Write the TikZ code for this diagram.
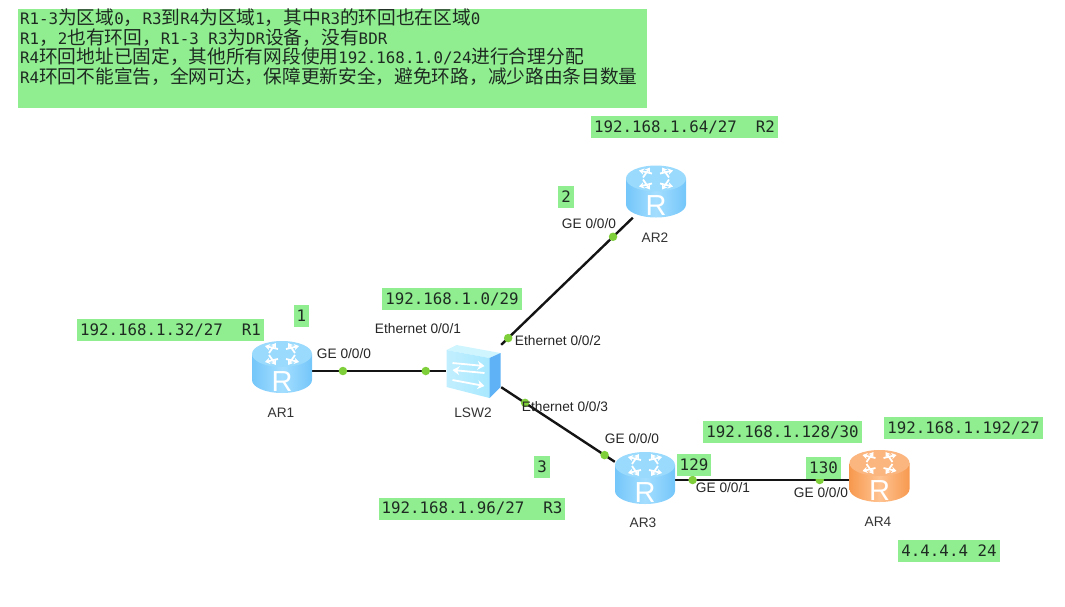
\documentclass[tikz,border=0pt]{standalone}
\usepackage{fontspec}
\setmainfont{Liberation Sans}
\setmonofont{DejaVu Sans Mono}
\newfontfamily\cjkfont{Noto Sans CJK SC}
\usetikzlibrary{positioning,backgrounds,arrows.meta}
\definecolor{notegreen} {HTML}{90EE90}
\definecolor{portgreen} {HTML}{7FCF3A}
\definecolor{linkink}   {HTML}{141414}
\definecolor{textink}   {HTML}{1E2A22}
\definecolor{blueedge}  {HTML}{74C6FA}
\definecolor{bluemid}   {HTML}{A4DEFF}
\definecolor{bluetop}   {HTML}{9ADAFC}
\definecolor{orangeedge}{HTML}{F7994F}
\definecolor{orangemid} {HTML}{FFC391}
\definecolor{orangetop} {HTML}{FBB57E}
\definecolor{swside}    {HTML}{5FB2F6}
\definecolor{swfront}   {HTML}{A8E8FF}
\definecolor{swtop}     {HTML}{CFF5FF}
\newcommand{\zh}[1]{{\cjkfont\fontsize{18.7}{19.5}\selectfont #1}}
\tikzset{
  % --- nodes
  box/.style    = {inner sep=0pt, minimum width=60pt, minimum height=52pt},
  swbox/.style  = {inner sep=0pt, minimum width=55pt, minimum height=52pt},
  tag/.style    = {fill=notegreen, text=textink, inner xsep=3pt, inner ysep=0pt,
                   minimum height=22pt, font=\ttfamily\fontsize{15.8}{18}\selectfont},
  port/.style   = {circle, fill=portgreen, inner sep=0pt, minimum size=8.5pt},
  ifname/.style = {font=\fontsize{13.7}{15}\selectfont, text=black!85, inner sep=0pt},
  devname/.style= {font=\fontsize{13.7}{15}\selectfont, text=black!80, inner sep=0pt},
  % --- edges
  link/.style   = {line width=2.4pt, draw=linkink},
  tip/.style    = {draw=white, line width=1.8pt, -{Stealth[length=5pt,width=6.5pt]}},
  swtip/.style  = {draw=white, line width=1.8pt, -{Stealth[length=7pt,width=9pt]}},
  % --- icons
  router/.pic = {
    \path[left color=#1edge, right color=#1edge, middle color=#1mid]
      (-30,-13) -- (-30,13) arc[start angle=180, end angle=360, x radius=30pt, y radius=13pt]
      -- (30,-13) -- cycle;
    \fill[#1top] (0,-13) ellipse [x radius=30pt, y radius=13pt];
    \foreach \a/\b/\c/\d in {-4/-18/-17/-21, 4/-18/17/-21, -4/-8/-17/-5, 4/-8/17/-5,
                             -13/-14/-6/-24, 13/-14/6/-24, -13/-12/-6/-2, 13/-12/6/-2}
      \draw[tip] (\a,\b) -- (\c,\d);
    \node[text=white, inner sep=0pt, font=\fontsize{29}{29}\selectfont] (letter) at (0,14.5) {R};
  },
  switch/.pic = {
    \fill[swtop] (-27,-21) -- (-17,-26) -- (27,-18) -- (16,-13) -- cycle;
    \path[left color=swfront!70!white, right color=swfront] (-27,-21) -- (16,-13) -- (16,27) -- (-27,16) -- cycle;
    \fill[swside] (16,-13) -- (27,-18) -- (27,16) -- (16,27) -- cycle;
    \draw[swtip] (-21,-8) -- (11,-5);
    \draw[swtip] (11,2) -- (-21,-1);
    \draw[swtip] (-21,9) -- (11,15);
  },
}
\begin{document}
\begin{tikzpicture}[x=1pt,y=-1pt]
  \useasboundingbox (0,0) rectangle (1065,606);
  % --- note
  \node[fill=notegreen, inner sep=0pt, minimum width=629pt, minimum height=99pt] (notebox) at (332.5,58.5) {};
  \node[anchor=north west, inner sep=0pt, align=left, text=textink,
        font=\ttfamily\fontsize{15.8}{19.5}\selectfont] (notetext) at (20,9)
    {R1-3\zh{为区域}0\zh{，}R3\zh{到}R4\zh{为区域}1\zh{，其中}R3\zh{的环回也在区域}0\\
     R1\zh{，}2\zh{也有环回，}R1-3 R3\zh{为}DR\zh{设备，没有}BDR\\
     R4\zh{环回地址已固定，其他所有网段使用}192.168.1.0/24\zh{进行合理分配}\\
     R4\zh{环回不能宣告，全网可达，保障更新安全，避免环路，减少路由条目数量}};
  % --- devices
  \node[box] (ar1) at (282,367) {};
  \node[box] (ar2) at (656,191.5) {};
  \node[box] (ar3) at (645,478) {};
  \node[box] (ar4) at (879.5,476) {};
  \node[swbox] (lsw2) at (473.5,371) {};
  \pic (ar1icon) at (ar1) {router=blue};
  \pic (ar2icon) at (ar2) {router=blue};
  \pic (ar3icon) at (ar3) {router=blue};
  \pic (ar4icon) at (ar4) {router=orange};
  \pic (lsw2icon) at (lsw2) {switch};
  % --- links
  \begin{scope}[on background layer]
    \draw[link] ([yshift=-4pt]ar1.east) -- (lsw2.west);
    \draw[link] (lsw2.north east) -- ([xshift=7pt]ar2.south west);
    \draw[link] ([yshift=10pt]lsw2.south east) -- ([yshift=-10pt]ar3.north west);
    \draw[link] ([yshift=-2pt]ar3.east) -- ([yshift=-4pt]ar4.west);
  \end{scope}
  \path ([yshift=-4pt]ar1.east) -- node[port,pos=.23] (p1) {} node[port,pos=.85] (p2) {} (lsw2.west);
  \path (lsw2.north east) -- node[port,pos=.053] (p3) {} node[port,pos=.85] (p4) {} ([xshift=7pt]ar2.south west);
  \path ([yshift=10pt]lsw2.south east) -- node[port,pos=.21] (p5) {} node[port,pos=.91] (p6) {} ([yshift=-10pt]ar3.north west);
  \path ([yshift=-2pt]ar3.east) -- node[port,pos=.10] (p7) {} node[port,pos=.83] (p8) {} ([yshift=-4pt]ar4.west);
  % --- tags
  \node[tag] (t1) at (684.5,127) {192.168.1.64/27~~R2};
  \node[tag] (t2) at (566,197) {2};
  \node[tag] (t3) at (301.5,316) {1};
  \node[tag] (t4) at (170.5,330) {192.168.1.32/27~~R1};
  \node[tag] (t5) at (452,299) {192.168.1.0/29};
  \node[tag] (t6) at (542,467) {3};
  \node[tag] (t7) at (472,508.5) {192.168.1.96/27~~R3};
  \node[tag] (t8) at (782.5,432) {192.168.1.128/30};
  \node[tag] (t9) at (963.5,428) {192.168.1.192/27};
  \node[tag] (t10) at (694,464.5) {129};
  \node[tag] (t11) at (823.5,468) {130};
  \node[tag] (t12) at (949,550.5) {4.4.4.4 24};
  % --- interface and device names
  \node[ifname] (i1) at (344,354) {GE 0/0/0};
  \node[ifname] (i2) at (418,329) {Ethernet 0/0/1};
  \node[ifname] (i3) at (558,341) {Ethernet 0/0/2};
  \node[ifname] (i4) at (565,407) {Ethernet 0/0/3};
  \node[ifname] (i5) at (589,224) {GE 0/0/0};
  \node[ifname] (i6) at (632,439) {GE 0/0/0};
  \node[ifname] (i7) at (723,488) {GE 0/0/1};
  \node[ifname] (i8) at (821,493) {GE 0/0/0};
  \node[devname] (n1) at (281,413) {AR1};
  \node[devname] (n2) at (473,413) {LSW2};
  \node[devname] (n3) at (655,238) {AR2};
  \node[devname] (n4) at (643,523) {AR3};
  \node[devname] (n5) at (878,522) {AR4};
\end{tikzpicture}
\end{document}
